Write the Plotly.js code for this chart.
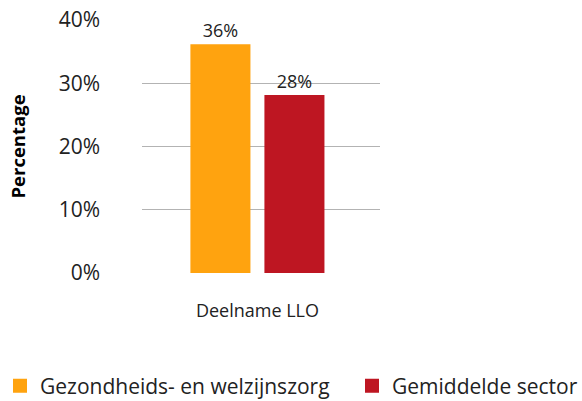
<!DOCTYPE html>
<html>
<head>
<meta charset="utf-8">
<script src="https://cdn.plot.ly/plotly-3.0.1.min.js"></script>
<style>html,body{margin:0;padding:0;background:#fff;}#chart{width:582px;height:401px;}</style>
</head>
<body>
<div id="chart"></div>
<script>
var categories = ["Deelname LLO"];
var seriesNames = ["Gezondheids- en welzijnszorg", "Gemiddelde sector"];
var seriesValues = [[36], [28]];
var seriesColors = ["#FFA30F", "#BE1622"];
var yTickValues = [0, 10, 20, 30, 40];
var yTickLabels = ["0%", "10%", "20%", "30%", "40%"];
var legendIds = ["legend", "legend2"];

var traces = seriesNames.map(function (name, i) {
  return {
    type: "bar",
    name: name,
    legend: legendIds[i],
    x: categories,
    y: seriesValues[i],
    marker: { color: seriesColors[i], line: { color: seriesColors[i], width: 2 } },
    text: seriesValues[i].map(function (v) { return v + "%"; }),
    textposition: "outside",
    textfont: { family: "Open Sans", size: 18, color: "#222" },
    cliponaxis: false,
    hoverinfo: "none"
  };
});

function legendAt(px) {
  return {
    orientation: "h",
    xref: "container",
    yref: "container",
    x: px / 582,
    xanchor: "left",
    y: (401 - 386) / 401,
    yanchor: "middle",
    font: { family: "Open Sans", size: 21, color: "#222" }
  };
}

var layout = {
  width: 582,
  height: 401,
  margin: { l: 142, r: 202, t: 20, b: 128 },
  paper_bgcolor: "#fff",
  plot_bgcolor: "#fff",
  font: { family: "Open Sans", color: "#222" },
  barmode: "group",
  bargap: 0.378,
  bargroupgap: 0.216,
  showlegend: true,
  legend: legendAt(0),
  legend2: legendAt(352),
  xaxis: {
    type: "category",
    range: [-0.485, 0.515],
    showgrid: false,
    zeroline: false,
    showline: false,
    ticks: "",
    ticklabelstandoff: 25,
    tickfont: { family: "Open Sans", size: 18, color: "#222" }
  },
  yaxis: {
    range: [0, 40],
    tickvals: yTickValues,
    ticktext: yTickLabels,
    showgrid: true,
    gridcolor: "#b3b3b3",
    gridwidth: 1,
    zeroline: false,
    showline: false,
    ticks: "",
    ticklabelstandoff: 41,
    tickfont: { family: "Open Sans", size: 21, color: "#222" },
    title: { text: "<b>Percentage</b>", font: { family: "Open Sans", size: 18.5, color: "#000" }, standoff: 28 }
  }
};

Plotly.newPlot("chart", traces, layout, { displayModeBar: false, staticPlot: true });
</script>
</body>
</html>
